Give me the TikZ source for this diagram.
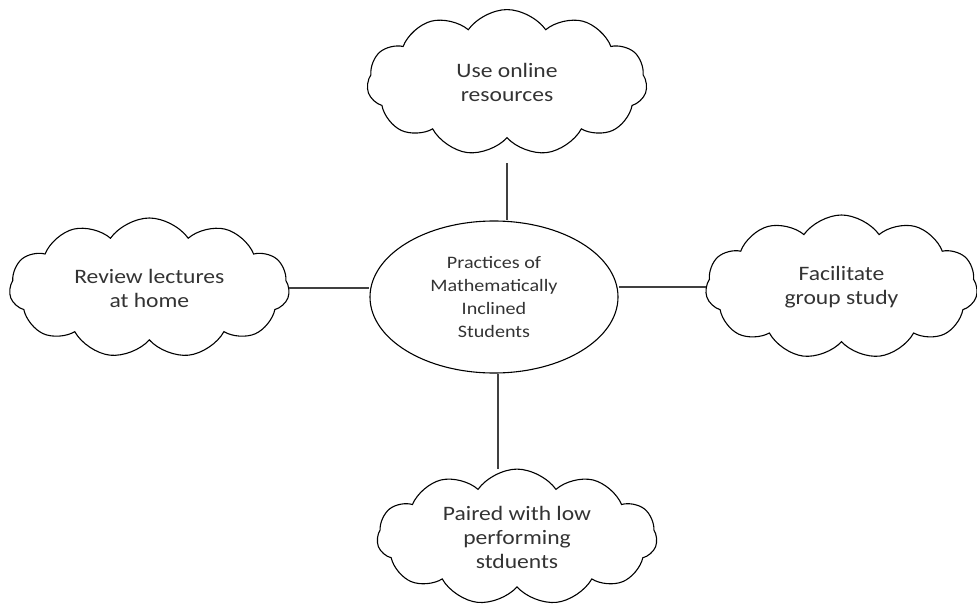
\documentclass[tikz,border=0pt]{standalone}
\usepackage{fontspec}
\setmainfont[FakeStretch=1.15]{Carlito}
\usetikzlibrary{shapes,positioning}

\begin{document}
\begin{tikzpicture}
  [practiceN/.style={cloud,cloud puffs=11,cloud puff arc=110,aspect=2,draw,
     line width=1.1pt,minimum width=280pt,minimum height=140pt,inner sep=0pt,
     align=center,font=\fontsize{20.5}{24}\selectfont,text=black!80},
   centerN/.style={ellipse,draw,line width=1.1pt,minimum width=248pt,
     minimum height=152pt,inner sep=0pt,align=center,
     font=\fontsize{17.5}{23}\selectfont,text=black!80},
   link/.style={line width=1.1pt,draw=black!75},
   node distance=80pt]

  \useasboundingbox (0,0) rectangle (977pt,-604pt);

  \node[centerN] (c) at (494pt,-297pt) {Practices of\\Mathematically\\Inclined\\Students};
  \node[practiceN,minimum height=146pt] (up) [above=82pt of c,xshift=13pt] {Use online\\resources};
  \node[practiceN] (lt) [left=80pt of c,yshift=9pt] {Review lectures\\at home};
  \node[practiceN,minimum width=272pt,minimum height=144pt] (rt) [right=87pt of c,yshift=10pt] {Facilitate\\group study};
  \node[practiceN,minimum height=136pt] (dn) [below=95pt of c,xshift=23pt] {Paired with low\\performing\\stduents};

  \draw[link,shorten <=25pt] (up.south) -- (up.south |- c.north);
  \draw[link] (lt.east) -- (lt.east -| c.west);
  \draw[link] (rt.west) -- (rt.west -| c.east);
  \draw[link] (dn.north -| 498pt,0) -- (c.south -| 498pt,0);

\end{tikzpicture}
\end{document}
